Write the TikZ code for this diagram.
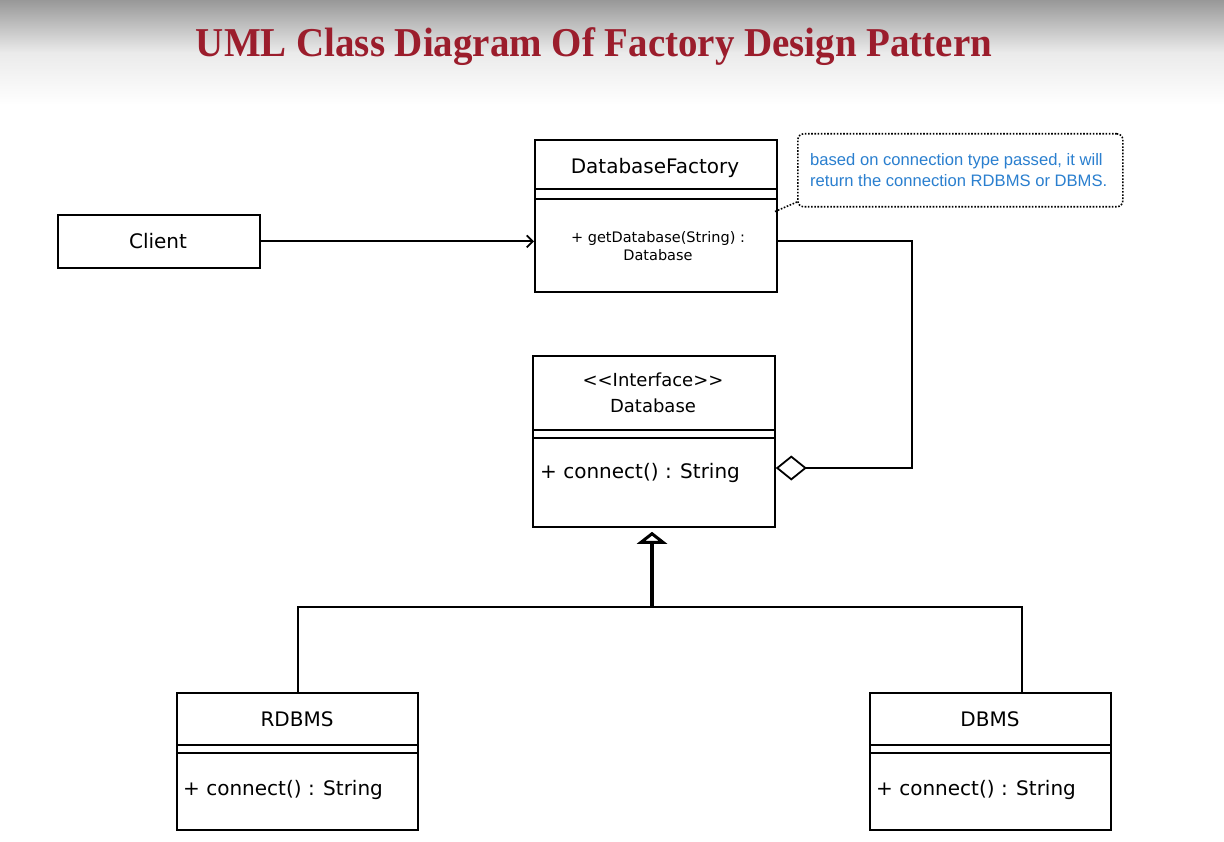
\documentclass[tikz,border=0pt]{standalone}
\usepackage{fontspec}
\setmainfont{DejaVu Sans}
\newfontfamily\titlefont{Liberation Serif}
\newfontfamily\notefont{Liberation Sans}
\usetikzlibrary{arrows.meta,shapes.geometric}
\definecolor{titlered}{HTML}{9B1D2C}
\definecolor{noteblue}{HTML}{2A7FCF}
\definecolor{topgray}{HTML}{989898}
\begin{document}
\begin{tikzpicture}[x=1pt,y=-1pt,
  classbox/.style={draw, line width=1.8pt, rectangle, inner sep=0pt, anchor=north west, fill=white},
  compline/.style={line width=1.8pt},
  nametext/.style={font=\fontsize{20}{24}\selectfont, inner sep=0pt},
  smalltext/.style={font=\fontsize{14.5}{18}\selectfont, inner sep=0pt, align=center},
  optext/.style={font=\fontsize{20}{24}\selectfont, inner sep=0pt, anchor=west},
  conn/.style={line width=1.8pt},
  assocarrow/.style={conn, -{Straight Barb[length=6pt, width=12pt, line width=1.8pt]}},
  aggrline/.style={conn, -{Diamond[open, fill=white, length=31pt, width=25pt, line width=1.8pt]}},
  genline/.style={line width=3.2pt, -{Triangle[open, fill=white, length=12pt, width=30pt, line width=3pt]}},
  notebox/.style={draw, line width=1.6pt, dash pattern=on 1.6pt off 1.6pt, rounded corners=6pt, anchor=north west, fill=white, inner sep=0pt},
  notetext/.style={font=\notefont\fontsize{16.6}{21}\selectfont, text=noteblue, align=left, inner sep=0pt, anchor=west},
  noteline/.style={line width=1.6pt, dash pattern=on 1.6pt off 1.6pt}
]
\useasboundingbox (0,0) rectangle (1224,842);
\fill[white] (0,0) rectangle (1224,842);
\shade[top color=topgray, bottom color=white, middle color=white!80!topgray] (0,0) rectangle (1224,105);

% title
\node[font=\titlefont\bfseries\fontsize{41}{44}\selectfont, text=titlered, inner sep=0pt, xscale=0.95] (title) at (594,47) {UML Class Diagram Of Factory Design Pattern};

% Client
\node[classbox, minimum width=202pt, minimum height=53pt] (client) at (57,214) {};
\node[nametext] (clienttext) at (158,241) {Client};

% DatabaseFactory
\node[classbox, minimum width=242pt, minimum height=152pt] (factory) at (534,139) {};
\draw[compline] (factory.west |- 0,189) -- (factory.east |- 0,189);
\draw[compline] (factory.west |- 0,199) -- (factory.east |- 0,199);
\node[nametext] (factorytitle) at (655,168) {DatabaseFactory};
\node[smalltext] (factoryop) at (658,246) {+ getDatabase(String) :\\Database};

% Note
\node[notebox, minimum width=325pt, minimum height=73pt] (note) at (797,133) {};
\node[notetext] (notetxt) at (810,170) {based on connection type passed, it will\\return the connection RDBMS or DBMS.};
\coordinate (noteanchor) at (797,202);
\coordinate (factorynote) at (774,212);
\draw[noteline] (noteanchor) -- (factorynote);

% Database interface
\node[classbox, minimum width=242pt, minimum height=171pt] (database) at (532,355) {};
\draw[compline] (database.west |- 0,430) -- (database.east |- 0,430);
\draw[compline] (database.west |- 0,438) -- (database.east |- 0,438);
\node[nametext, font=\fontsize{18}{26}\selectfont, align=center] (dbtitle) at (653,393) {<\kern0pt<Interface>\kern0pt>\\Database};
\node[optext] (dbop) at (540,473) {+ connect() : String};

% RDBMS
\node[classbox, minimum width=241pt, minimum height=137pt] (rdbms) at (176,692) {};
\draw[compline] (rdbms.west |- 0,745) -- (rdbms.east |- 0,745);
\draw[compline] (rdbms.west |- 0,753) -- (rdbms.east |- 0,753);
\node[nametext] (rdbmstitle) at (297,719) {RDBMS};
\node[optext] (rdbmsop) at (183,790) {+ connect() : String};

% DBMS
\node[classbox, minimum width=241pt, minimum height=137pt] (dbms) at (869,692) {};
\draw[compline] (dbms.west |- 0,745) -- (dbms.east |- 0,745);
\draw[compline] (dbms.west |- 0,753) -- (dbms.east |- 0,753);
\node[nametext] (dbmstitle) at (990,719) {DBMS};
\node[optext] (dbmsop) at (876,790) {+ connect() : String};

% Client -> Factory
\draw[assocarrow] (client.east) -- (factory.west |- client.east);

% Factory -- aggregation --> Database
\coordinate (aggA) at (912,241);
\coordinate (aggB) at (912,468);
\draw[aggrline] (factory.east |- aggA) -- (aggA) -- (aggB) -- (database.east |- aggB);

% Generalization
\coordinate (genjoin) at (652,607);
\coordinate (rdbmsjoin) at (298,607);
\coordinate (dbmsjoin) at (1022,607);
\draw[conn] (rdbmsjoin |- rdbms.north) -- (rdbmsjoin) -- (dbmsjoin) -- (dbmsjoin |- dbms.north);
\draw[genline, shorten >=4pt] (genjoin) -- (genjoin |- database.south);
\end{tikzpicture}
\end{document}
